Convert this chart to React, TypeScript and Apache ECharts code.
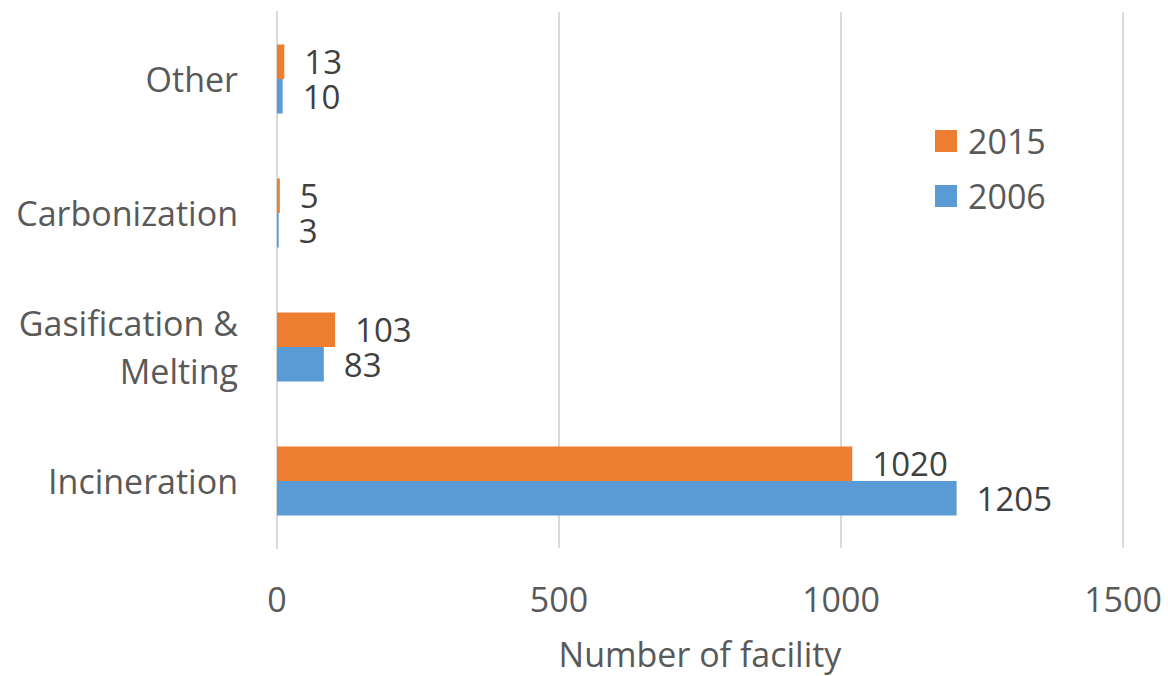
import React, { useEffect, useRef } from "react";
import * as echarts from "echarts";

// Facility types, listed bottom to top on the category axis
const categories = ["Incineration", "Gasification &\nMelting", "Carbonization", "Other"];
const values2006 = [1205, 83, 3, 10];
const values2015 = [1020, 103, 5, 13];
const xTicks = { min: 0, max: 1500, interval: 500 };

const FONT = "'Open Sans', 'Liberation Sans', sans-serif";
const BLUE = "#5B9BD5";
const ORANGE = "#ED7D31";

export default function App() {
  const ref = useRef<HTMLDivElement>(null);

  useEffect(() => {
    if (!ref.current) return;
    const chart = echarts.init(ref.current, undefined, { renderer: "svg" });
    const valueLabel = {
      show: true,
      position: "right" as const,
      distance: 20,
      fontFamily: FONT,
      fontSize: 33,
      lineHeight: 33,
      color: "#404040",
    };
    chart.setOption({
      animation: false,
      backgroundColor: "#ffffff",
      textStyle: { fontFamily: FONT },
      grid: {
        left: 277,
        right: 45,
        top: 12,
        bottom: 128,
        containLabel: false,
        outerBoundsMode: "none",
      },
      legend: {
        orient: "vertical",
        left: 935,
        top: 124,
        padding: 0,
        itemWidth: 22,
        itemHeight: 22,
        itemGap: 21,
        icon: "rect",
        data: ["2015", "2006"],
        textStyle: {
          fontFamily: FONT,
          fontSize: 34,
          color: "#595959",
          padding: [0, 0, 0, 6],
        },
      },
      xAxis: {
        type: "value",
        min: xTicks.min,
        max: xTicks.max,
        interval: xTicks.interval,
        name: "Number of facility",
        nameLocation: "middle",
        nameGap: 89,
        nameTextStyle: { fontFamily: FONT, fontSize: 34, lineHeight: 34, color: "#595959" },
        axisLine: { show: false },
        axisTick: { show: false },
        axisLabel: {
          fontFamily: FONT,
          fontSize: 34,
          color: "#595959",
          margin: 34,
          formatter: (v: number) => String(v),
        },
        splitLine: { show: true, lineStyle: { color: "#D9D9D9", width: 2 } },
      },
      yAxis: {
        type: "category",
        data: categories,
        axisLine: { show: true, lineStyle: { color: "#D9D9D9", width: 2 } },
        axisTick: { show: false },
        axisLabel: {
          fontFamily: FONT,
          fontSize: 34,
          lineHeight: 48,
          color: "#595959",
          margin: 39,
          align: "right",
        },
      },
      series: [
        {
          name: "2015",
          type: "bar",
          data: values2015,
          barWidth: 34.5,
          barGap: "0%",
          itemStyle: { color: ORANGE },
          label: valueLabel,
        },
        {
          name: "2006",
          type: "bar",
          data: values2006,
          barWidth: 34.5,
          barGap: "0%",
          itemStyle: { color: BLUE },
          label: valueLabel,
        },
      ],
    });
    return () => chart.dispose();
  }, []);

  return <div ref={ref} style={{ width: 1168, height: 676, position: "absolute", left: 0, top: 0 }} />;
}
